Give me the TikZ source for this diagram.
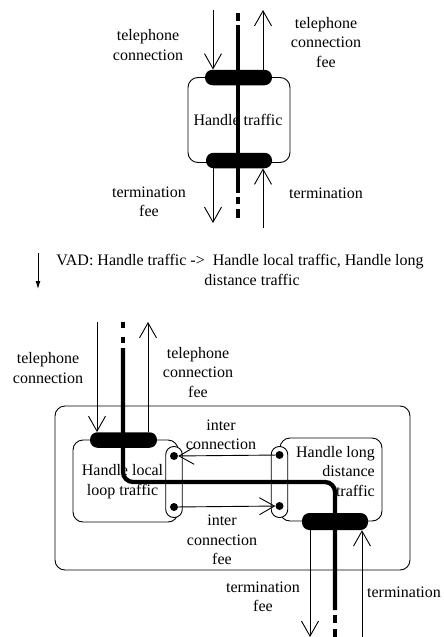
\documentclass[tikz,border=0pt]{standalone}
\usepackage{fontspec}
\setmainfont{Liberation Serif}
\usetikzlibrary{arrows.meta}
\begin{document}
\begin{tikzpicture}[x=1pt,y=-1pt,
  lbl/.style={font=\fontsize{16}{19.5}\selectfont, align=center, inner sep=0pt},
  thin/.style={line width=0.9pt},
  arr/.style={thin, -{Straight Barb[length=15pt,width=17pt,line width=0.9pt]}},
  flow/.style={line width=4.3pt},
  pill/.style={fill=black, rounded corners=7.5pt, inner sep=0pt, minimum height=15.5pt},
  box/.style={draw, line width=0.9pt, rounded corners=10pt, inner sep=0pt},
  port/.style={draw, fill=white, line width=0.9pt, rounded corners=8pt, inner sep=0pt, minimum width=16.5pt, minimum height=71pt},
  dot/.style={circle, fill=black, inner sep=0pt, minimum size=8pt}]
\useasboundingbox (0,0) rectangle (444,637);

% ---------- activity "Handle traffic" ----------
\node[box, minimum width=102pt, minimum height=85pt] (b1) at (239,120) {};
\node[lbl] (t1) at (238,120) {Handle traffic};
\node[pill, minimum width=67pt] (p1) at (238.5,77.5) {};
\node[pill, minimum width=66pt] (p2) at (239,160.5) {};

\coordinate (tin) at (213,10);
\coordinate (tout) at (263,10);
\coordinate (bout) at (213,223);
\coordinate (bin) at (263,228);
\draw[arr] (tin) -- (tin |- p1.north);
\draw[arr] (p1.north -| tout) -- (tout);
\draw[arr] (p2.south -| bout) -- (bout);
\draw[arr] (bin) -- (bin |- p2.south);

% control flow through the activity
\coordinate (f1a) at (238,13); \coordinate (f1b) at (238,21);
\coordinate (f1c) at (238,25); \coordinate (f1d) at (238,193);
\coordinate (f1e) at (238,197); \coordinate (f1f) at (238,204);
\coordinate (f1g) at (238,209); \coordinate (f1h) at (238,218);
\draw[flow] (f1a) -- (f1b) (f1c) -- (f1d) (f1e) -- (f1f) (f1g) -- (f1h);

\node[lbl] (l1) at (148,45) {telephone\\connection};
\node[lbl] (l2) at (326,42.5) {telephone\\connection\\fee};
\node[lbl] (l3) at (149,202) {termination\\fee};
\node[lbl] (l4) at (326,193) {termination};

% ---------- decomposition step ----------
\coordinate (va) at (38,253);
\coordinate (vb) at (38,289);
\draw[thin, -{Latex[length=8pt,width=5pt]}] (va) -- (vb);
\node[lbl] (vad1) at (240,262) {VAD: Handle traffic ->\ \ Handle local traffic, Handle long};
\node[lbl] (vad2) at (252,280) {distance traffic};

% ---------- refined activities ----------
\node[box, minimum width=355pt, minimum height=164pt] (outer) at (232.5,488) {};
\node[box, minimum width=105pt, minimum height=82pt] (bl) at (125.5,481) {};
\node[box, minimum width=102pt, minimum height=83pt] (br) at (331,479.5) {};
\node[port] (cl) at (174,482) {};
\node[port] (cr) at (279.5,482) {};
\node[dot] (d1) at (174,456) {};
\node[dot] (d2) at (174,507) {};
\node[dot] (d3) at (279.5,455) {};
\node[dot] (d4) at (279.5,506) {};

\node[lbl] (tl) at (122.5,481.5) {Handle local\\loop traffic};
\node[lbl, anchor=east] (tr) at (375,473) {\begin{tabular}{@{}r@{}}Handle long\\distance\\traffic\end{tabular}};

\node[pill, minimum width=67pt] (p3) at (123.5,440) {};
\node[pill, minimum width=66pt, minimum height=17pt] (p4) at (335,521.5) {};

\coordinate (uin) at (97,322);
\coordinate (uout) at (148,322);
\coordinate (lout) at (310,637);
\coordinate (lin) at (362,638);
\draw[arr] (uin) -- (uin |- p3.north);
\draw[arr] (p3.north -| uout) -- (uout);
\draw[arr] (p4.south -| lout) -- (lout);
\draw[arr] (lin) -- (lin |- p4.south);

\draw[arr] (d3) -- (d1);
\draw[arr] (d2) -- (d4);

% control flow through both activities
\coordinate (g1) at (123,322); \coordinate (g2) at (123,328);
\coordinate (g3) at (123,337); \coordinate (g4) at (123,343);
\coordinate (g5) at (123,348); \coordinate (g6) at (335,610);
\coordinate (g7) at (335,615); \coordinate (g8) at (335,623);
\coordinate (g9) at (335,629); \coordinate (g10) at (335,637);
\coordinate (gc1) at (123,482); \coordinate (gc2) at (335,482);
\draw[flow] (g1) -- (g2) (g3) -- (g4);
\draw[flow, rounded corners=10pt] (g5) -- (gc1) -- (gc2) -- (g6);
\draw[flow] (g7) -- (g8) (g9) -- (g10);

\node[lbl] (m1) at (48,368) {telephone\\connection};
\node[lbl] (m2) at (198,372.5) {telephone\\connection\\fee};
\node[lbl] (m3) at (221,435) {inter\\connection};
\node[lbl] (m4) at (222,540) {inter\\connection\\fee};
\node[lbl] (m5) at (263,597) {termination\\fee};
\node[lbl] (m6) at (404,592) {termination};
\end{tikzpicture}
\end{document}
